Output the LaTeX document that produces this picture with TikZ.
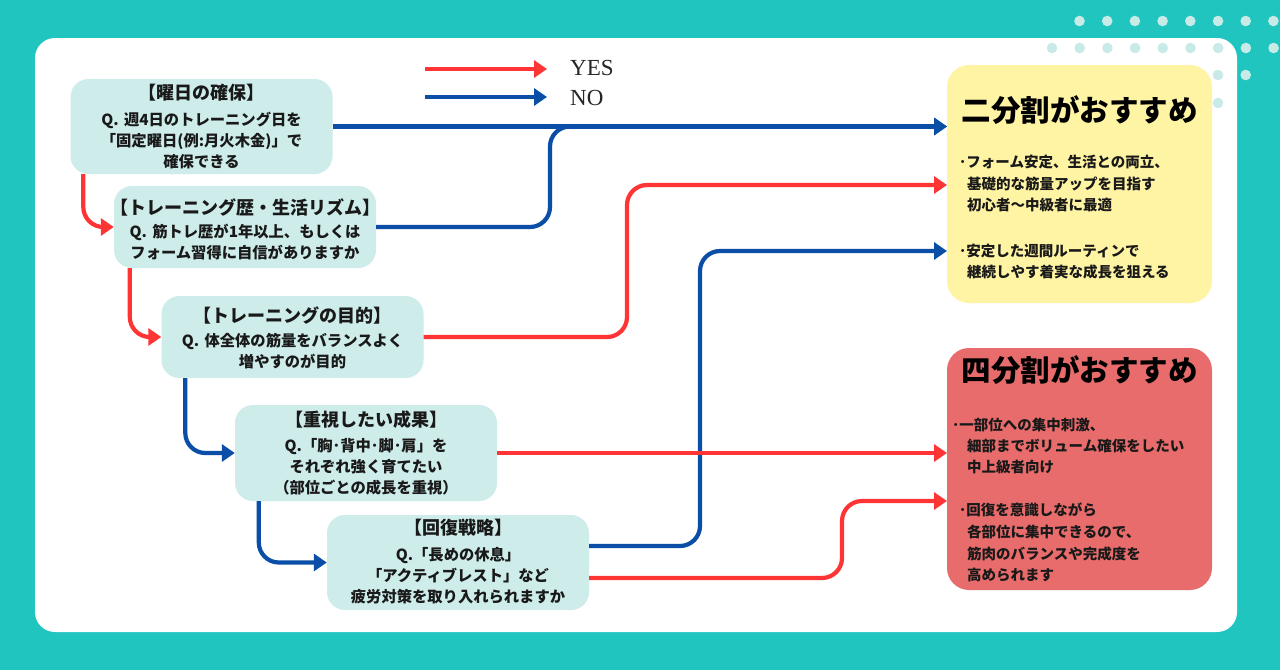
\documentclass[tikz,border=0pt]{standalone}
\usepackage{fontspec}
\newfontfamily\jp{Noto Sans CJK JP}
\newfontfamily\legfont{Liberation Serif}
\usetikzlibrary{arrows.meta,calc}
\definecolor{bgteal}{RGB}{32,197,191}
\definecolor{dotc}{RGB}{200,235,232}
\definecolor{qfill}{RGB}{205,236,234}
\definecolor{yesred}{RGB}{255,53,53}
\definecolor{noblue}{RGB}{10,78,168}
\definecolor{yfill}{RGB}{255,244,164}
\definecolor{rfill}{RGB}{233,108,108}
\begin{document}
\begin{tikzpicture}[x=1pt,y=-1pt,
  qbox/.style={fill=qfill,rounded corners=18pt,minimum width=262pt,inner sep=0pt},
  rbox/.style={rounded corners=22pt,minimum width=265pt,inner sep=0pt},
  qtitle/.style={font=\jp\bfseries\fontsize{18}{20}\selectfont,inner sep=0pt,text=black!90},
  qbody/.style={font=\jp\bfseries\fontsize{15.3}{21}\selectfont,align=center,inner sep=0pt,text=black!90},
  rtitle/.style={font=\jp\bfseries\fontsize{29.5}{32}\selectfont,inner sep=0pt,text=black},
  rline/.style={font=\jp\bfseries\fontsize{14.5}{18}\selectfont,inner sep=0pt,anchor=west,text=black!90},
  conn/.style={line width=4.2pt,rounded corners=20pt,-{Triangle[length=13pt,width=17pt]}},
  yesline/.style={conn,draw=yesred},
  noline/.style={conn,draw=noblue},
  legtext/.style={font=\legfont\fontsize{23}{24}\selectfont,anchor=west,inner sep=0pt,text=black!85}
]
\useasboundingbox (0,0) rectangle (1280,670);
\fill[bgteal] (0,0) rectangle (1280,670);
\fill[white,rounded corners=20pt] (35,38) rectangle (1237,632);
% dots
\foreach \i in {0,...,7} \fill[dotc] (1079.5+27.7*\i,21) circle (5.3);
\foreach \i in {0,...,8} \fill[dotc] (1052+27.7*\i,48) circle (5.3);
\fill[dotc] (1218,75) circle (5.3);
\fill[dotc] (1245.7,75) circle (5.3);
\fill[dotc] (1218,103) circle (5.3);

% question boxes
\node[qbox,minimum height=95pt] (b1) at (201.5,126.5) {};
\node[qbox,minimum height=82pt] (b2) at (245,227) {};
\node[qbox,minimum height=82pt] (b3) at (292.5,337) {};
\node[qbox,minimum height=96pt] (b4) at (366,453) {};
\node[qbox,minimum height=95pt] (b5) at (458,562.5) {};

\node[qtitle] (b1t) at (201.5,93) {【曜日の確保】};
\node[qbody] (b1b) at (201.5,141) {Q.\hspace{0.35em}週4日のトレーニング日を\\「固定曜日(例:月火木金)」で\\確保できる};
\node[qtitle] (b2t) at (245,207) {【トレーニング歴・生活リズム】};
\node[qbody] (b2b) at (245,242.5) {Q.\hspace{0.35em}筋トレ歴が1年以上、もしくは\\フォーム習得に自信がありますか};
\node[qtitle] (b3t) at (292.5,315) {【トレーニングの目的】};
\node[qbody] (b3b) at (292.5,351) {Q.\hspace{0.35em}体全体の筋量をバランスよく\\増やすのが目的};
\node[qtitle] (b4t) at (366,420) {【重視したい成果】};
\node[qbody] (b4b) at (366,467) {Q.「胸･背中･脚･肩」を\\それぞれ強く育てたい\\（部位ごとの成長を重視）};
\node[qtitle] (b5t) at (458,528) {【回復戦略】};
\node[qbody] (b5b) at (458,576) {Q.「長めの休息」\\「アクティブレスト」など\\疲労対策を取り入れられますか};

% result boxes
\node[rbox,fill=yfill,minimum height=238pt] (yb) at (1079.5,184) {};
\node[rbox,fill=rfill,minimum height=242pt] (rb) at (1079.5,469) {};
\node[rtitle] (ybt) at (1079.5,110) {二分割がおすすめ};
\node[rtitle] (rbt) at (1079.5,370) {四分割がおすすめ};

\node[rline] (y1) at (959,162) {･フォーム安定、生活との両立、};
\node[rline] (y2) at (967,183.5) {基礎的な筋量アップを目指す};
\node[rline] (y3) at (967,205) {初心者～中級者に最適};
\node[rline] (y4) at (959,251) {･安定した週間ルーティンで};
\node[rline] (y5) at (967,272) {継続しやす着実な成長を狙える};

\node[rline] (r1) at (952,425) {･一部位への集中刺激、};
\node[rline] (r2) at (967,446) {細部までボリューム確保をしたい};
\node[rline] (r3) at (967,467) {中上級者向け};
\node[rline] (r4) at (959,510) {･回復を意識しながら};
\node[rline] (r5) at (967,532) {各部位に集中できるので、};
\node[rline] (r6) at (967,554) {筋肉のバランスや完成度を};
\node[rline] (r7) at (967,575) {高められます};

% legend
\coordinate (l1a) at (425,69);
\coordinate (l1b) at (547,69);
\coordinate (l2a) at (425,97);
\coordinate (l2b) at (547,97);
\draw[yesline,rounded corners=0pt] (l1a) -- (l1b);
\draw[noline,rounded corners=0pt] (l2a) -- (l2b);
\node[legtext] (lyes) at (570,68) {YES};
\node[legtext] (lno) at (570,98) {NO};

% targets
\coordinate (t1) at (947,126.5);
\coordinate (t2) at (947,185);
\coordinate (t3) at (947,251);
\coordinate (t4) at (947,453);
\coordinate (t5) at (947,501);
\coordinate (m1) at (550,126.5);
\coordinate (m2) at (627,185);
\coordinate (m3) at (700,251);
\coordinate (m4) at (842,501);

% left chain
\draw[yesline] ($(b1.south west)+(13,0)$) |- (b2.west);
\draw[yesline] ($(b2.south west)+(16,0)$) |- (b3.west);
\draw[noline] ($(b3.south west)+(24,0)$) |- (b4.west);
\draw[noline] ($(b4.south west)+(24,0)$) |- (b5.west);

% right connectors
\draw[noline] (b1.east) -- (t1);
\draw[noline] (b2.east) -| (m1) -- (t1);
\draw[yesline] (b3.east) -| (m2) -- (t2);
\draw[noline] ($(b5.east)+(0,-16.5)$) -| (m3) -- (t3);
\draw[yesline] (b4.east) -- (t4);
\draw[yesline] ($(b5.east)+(0,15.5)$) -| (m4) -- (t5);
\end{tikzpicture}
\end{document}
